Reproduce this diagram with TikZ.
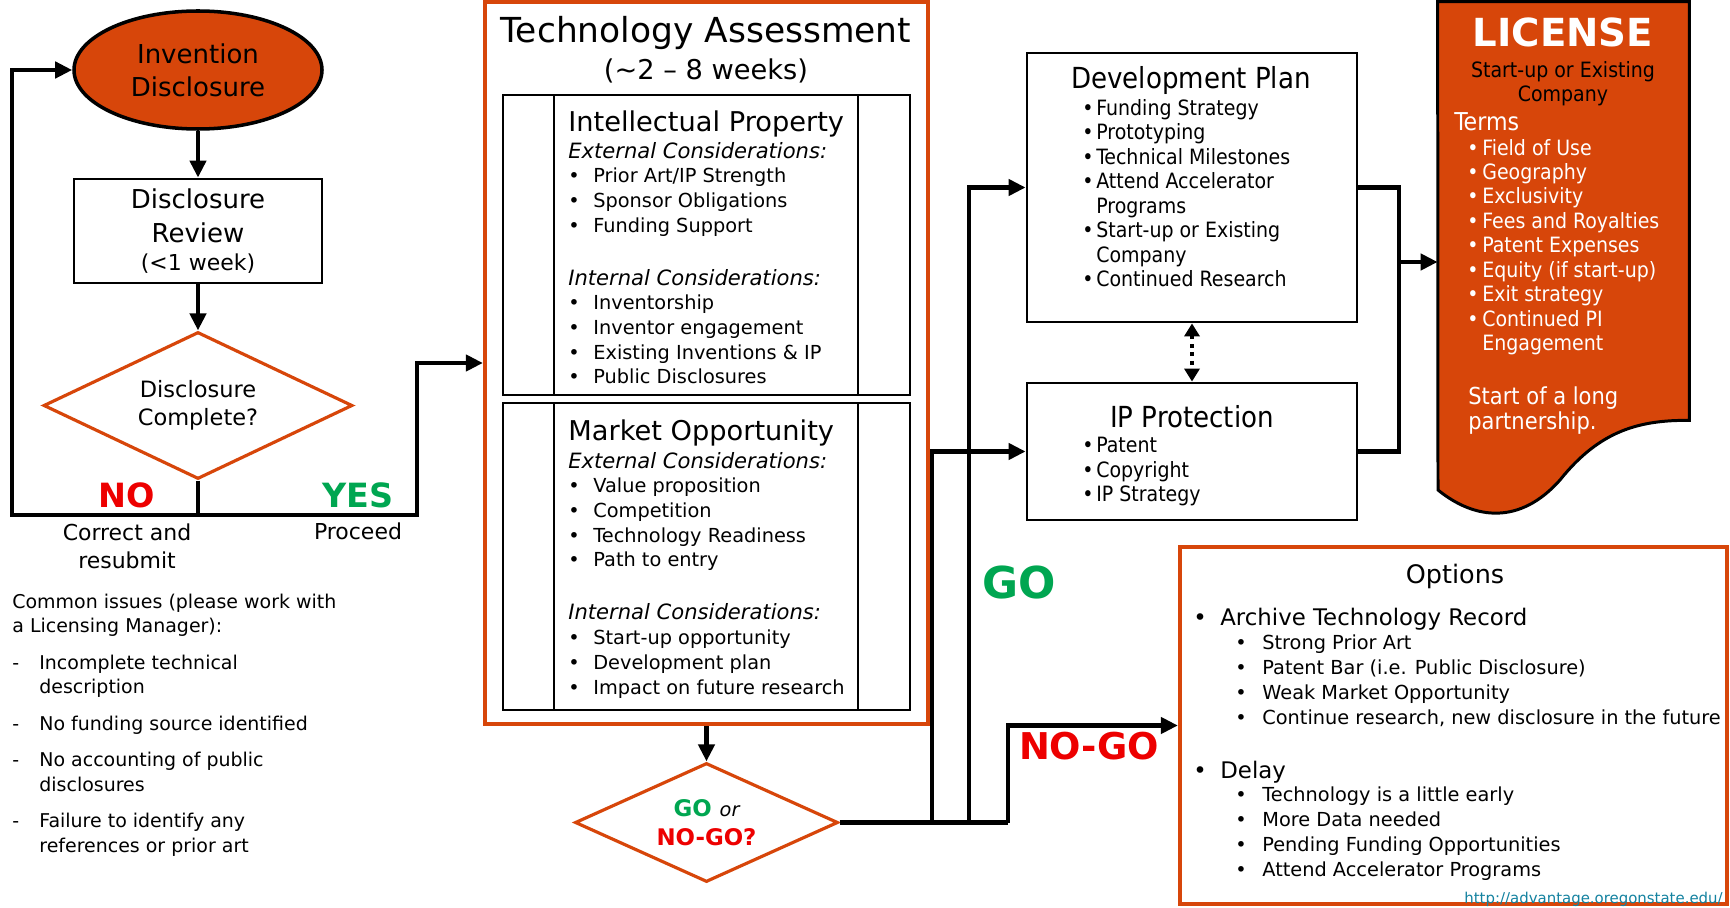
\documentclass[tikz,border=0pt]{standalone}
\usepackage{fontspec}
\setmainfont{DejaVu Sans}
\newfontfamily\condensed{DejaVu Sans Condensed}
\usetikzlibrary{arrows.meta,shapes.geometric}

\definecolor{osuorange}{RGB}{215,70,10}
\definecolor{gogreen}{RGB}{0,166,81}
\definecolor{nogored}{RGB}{237,0,0}
\definecolor{linkteal}{RGB}{20,130,160}

\newcommand{\bul}[1][0.50cm]{\makebox[#1][l]{\textbullet}}

\tikzset{
	conn/.style={line width=2.8pt, -{Triangle[length=0.34cm,width=0.32cm]}},
	wire/.style={line width=2.8pt},
	blackbox/.style={draw, line width=1.6pt, inner sep=0},
	orangebox/.style={draw=osuorange, line width=2.4pt, inner sep=0},
	decide/.style={diamond, draw=osuorange, line width=1.8pt, inner sep=0, align=center},
	textblock/.style={anchor=base west, align=left, inner sep=0},
	itemfont/.style={font=\fontsize{11}{14.05}\selectfont},
	narrowfont/.style={font=\condensed\fontsize{12}{13.9}\selectfont}
}

\begin{document}
\begin{tikzpicture}
	\path [use as bounding box, fill=white] (0,0) rectangle (34.6,-18.16);

	\node (invention) [ellipse, draw, line width=2pt, fill=osuorange, minimum width=4.96cm, minimum height=2.36cm, inner sep=0, align=center, font=\fontsize{14.8}{18.8}\selectfont] at (3.96,-1.40) {Invention\\Disclosure};
	\node (review) [blackbox, minimum width=4.96cm, minimum height=2.08cm, align=center, font=\fontsize{14.8}{19.4}\selectfont] at (3.96,-4.62) {Disclosure\\Review\\[-3.4pt]{\fontsize{12.5}{15}\selectfont (<1 week)}};
	\node (complete) [decide, aspect=2.1, minimum width=6.18cm, minimum height=2.94cm, font=\fontsize{12.8}{16}\selectfont] at (3.96,-8.11) {Disclosure\\Complete?};
	\coordinate (fork) at (3.96,-10.30);
	\coordinate (retry) at (0.24,-10.30);
	\coordinate (proceed) at (8.34,-10.30);
	\node (no) [font=\fontsize{19}{20}\selectfont\bfseries, text=nogored] at (2.54,-9.90) {NO};
	\node (yes) [font=\fontsize{19}{20}\selectfont\bfseries, text=gogreen] at (7.16,-9.90) {YES};
	\node (correct) [align=center, font=\fontsize{12.5}{16}\selectfont] at (2.54,-10.92) {Correct and\\resubmit};
	\node (proceedlabel) [font=\fontsize{12.5}{16}\selectfont] at (7.16,-10.62) {Proceed};
	\node (issues) [textblock, font=\fontsize{10.8}{13.94}\selectfont] at (0.24,-17.04) {Common issues (please work with\\a Licensing Manager):\\[6.8pt]\makebox[0.54cm][l]{-}Incomplete technical\\\hspace*{0.54cm}description\\[6.8pt]\makebox[0.54cm][l]{-}No funding source identified\\[6.8pt]\makebox[0.54cm][l]{-}No accounting of public\\\hspace*{0.54cm}disclosures\\[6.8pt]\makebox[0.54cm][l]{-}Failure to identify any\\\hspace*{0.54cm}references or prior art};

	\node (assess) [orangebox, minimum width=8.86cm, minimum height=14.44cm] at (14.13,-7.26) {};
	\node (assesstitle) [anchor=base, font=\fontsize{19.6}{22}\selectfont] at (14.12,-0.86) {Technology Assessment};
	\node (assessweeks) [anchor=base, font=\fontsize{15.5}{18}\selectfont] at (14.12,-1.60) {(\textasciitilde 2 -- 8 weeks)};
	\node (ipbox) [blackbox, line width=1.4pt, minimum width=8.14cm, minimum height=6.00cm] at (14.13,-4.90) {};
	\draw [line width=1.4pt] (11.08,-1.90) -- (11.08,-7.90);
	\draw [line width=1.4pt] (17.16,-1.90) -- (17.16,-7.90);
	\node (iptitle) [textblock, font=\fontsize{15.5}{18}\selectfont] at (11.36,-2.64) {Intellectual Property};
	\node (iplist) [textblock, itemfont] at (11.36,-7.68) {{\fontsize{12}{14.05}\selectfont\itshape External Considerations:}\\\bul Prior Art/IP Strength\\\bul Sponsor Obligations\\\bul Funding Support\\[16.1pt]{\fontsize{12}{14.05}\selectfont\itshape Internal Considerations:}\\\bul Inventorship\\\bul Inventor engagement\\\bul Existing Inventions \& IP\\\bul Public Disclosures};
	\node (mkbox) [blackbox, line width=1.4pt, minimum width=8.14cm, minimum height=6.14cm] at (14.13,-11.13) {};
	\draw [line width=1.4pt] (11.08,-8.06) -- (11.08,-14.20);
	\draw [line width=1.4pt] (17.16,-8.06) -- (17.16,-14.20);
	\node (mktitle) [textblock, font=\fontsize{15.5}{18}\selectfont] at (11.36,-8.80) {Market Opportunity};
	\node (mklist) [textblock, itemfont] at (11.36,-13.88) {{\fontsize{12}{14.05}\selectfont\itshape External Considerations:}\\\bul Value proposition\\\bul Competition\\\bul Technology Readiness\\\bul Path to entry\\[16.1pt]{\fontsize{12}{14.05}\selectfont\itshape Internal Considerations:}\\\bul Start-up opportunity\\\bul Development plan\\\bul Impact on future research};
	\node (godecide) [decide, aspect=2.2, minimum width=5.26cm, minimum height=2.38cm, font=\fontsize{13}{16.5}\selectfont\bfseries] at (14.13,-16.45) {\textcolor{gogreen}{GO} {\fontsize{11}{11}\selectfont\mdseries\itshape or}\\\textcolor{nogored}{NO-GO?}};
	\node (golabel) [font=\fontsize{25}{25}\selectfont\bfseries, text=gogreen] at (20.38,-11.66) {GO};
	\node (nogolabel) [font=\fontsize{21}{21}\selectfont\bfseries, text=nogored] at (21.78,-14.92) {NO-GO};

	\node (devplan) [blackbox, minimum width=6.60cm, minimum height=5.38cm] at (23.84,-3.75) {};
	\node (devtitle) [anchor=base, font=\condensed\fontsize{16.5}{19}\selectfont] at (23.82,-1.78) {Development Plan};
	\node (devlist) [textblock, narrowfont] at (21.64,-5.73) {\bul[0.28cm]Funding Strategy\\\bul[0.28cm]Prototyping\\\bul[0.28cm]Technical Milestones\\\bul[0.28cm]Attend Accelerator\\\hspace*{0.28cm}Programs\\\bul[0.28cm]Start-up or Existing\\\hspace*{0.28cm}Company\\\bul[0.28cm]Continued Research};
	\node (ipprot) [blackbox, minimum width=6.60cm, minimum height=2.74cm] at (23.84,-9.03) {};
	\node (ipprottitle) [anchor=base, font=\condensed\fontsize{16.5}{19}\selectfont] at (23.84,-8.54) {IP Protection};
	\node (ipprotlist) [textblock, narrowfont] at (21.64,-10.03) {\bul[0.28cm]Patent\\\bul[0.28cm]Copyright\\\bul[0.28cm]IP Strategy};
	\coordinate (merge) at (27.98,-5.24);

	\node (license) [minimum width=5.02cm, minimum height=8.36cm, inner sep=0] at (31.27,-4.22) {};
	\filldraw [fill=osuorange, draw=black, line width=1.7pt] (license.north west) -- (license.north east) -- (license.south east) .. controls (32.8,-8.40) and (32.0,-8.60) .. (31.2,-9.60) .. controls (30.4,-10.50) and (29.5,-10.40) .. (28.76,-9.80) -- cycle;
	\node (lictitle) [anchor=base, font=\fontsize{22}{22}\selectfont\bfseries, text=white] at (31.26,-0.94) {LICENSE};
	\node (licwho) [anchor=base, align=center, inner sep=0, font=\condensed\fontsize{12}{13.7}\selectfont] at (31.26,-2.03) {Start-up or Existing\\Company};
	\node (licterms) [textblock, font=\condensed\fontsize{14}{16}\selectfont, text=white] at (29.08,-2.62) {Terms};
	\node (liclist) [textblock, narrowfont, text=white] at (29.34,-7.01) {\bul[0.30cm]Field of Use\\\bul[0.30cm]Geography\\\bul[0.30cm]Exclusivity\\\bul[0.30cm]Fees and Royalties\\\bul[0.30cm]Patent Expenses\\\bul[0.30cm]Equity (if start-up)\\\bul[0.30cm]Exit strategy\\\bul[0.30cm]Continued PI\\\hspace*{0.30cm}Engagement};
	\node (licnote) [textblock, font=\condensed\fontsize{13.3}{14.2}\selectfont, text=white] at (29.36,-8.59) {Start of a long\\partnership.};

	\node (options) [orangebox, minimum width=10.94cm, minimum height=7.14cm] at (29.07,-14.51) {};
	\node (opttitle) [anchor=base, font=\fontsize{14.5}{16}\selectfont] at (29.10,-11.66) {Options};
	\node (optarchive) [textblock, font=\fontsize{13}{15}\selectfont] at (23.86,-12.50) {\bul[0.54cm]Archive Technology Record};
	\node (optarchlist) [textblock, itemfont] at (24.70,-14.48) {\bul[0.54cm]Strong Prior Art\\\bul[0.54cm]Patent Bar (i.e. Public Disclosure)\\\bul[0.54cm]Weak Market Opportunity\\\bul[0.54cm]Continue research, new disclosure in the future};
	\node (optdelay) [textblock, font=\fontsize{13}{15}\selectfont] at (23.86,-15.56) {\bul[0.54cm]Delay};
	\node (optdelaylist) [textblock, itemfont] at (24.70,-17.52) {\bul[0.54cm]Technology is a little early\\\bul[0.54cm]More Data needed\\\bul[0.54cm]Pending Funding Opportunities\\\bul[0.54cm]Attend Accelerator Programs};
	\node (url) [anchor=base east, inner sep=0, font=\fontsize{8.5}{9}\selectfont, text=linkteal] at (34.46,-18.06) {\underline{http://advantage.oregonstate.edu/}};

	\draw [conn] (invention.south) -- (review.north);
	\draw [conn] (review.south) -- (complete.north);
	\draw [wire] (complete.south) -- (fork);
	\draw [conn] (fork) -- (retry) |- (invention.west);
	\draw [conn] (fork) -- (proceed) |- (assess.west);
	\draw [conn] (assess.south) -- (godecide.north);
	\coordinate (gobendip) at (18.64,-16.45);
	\coordinate (gobenddev) at (19.38,-16.45);
	\coordinate (nogobend) at (20.16,-16.45);
	\draw [wire] (godecide.east) -- (nogobend);
	\draw [conn] (nogobend) |- (options.west);
	\draw [conn] (gobendip) |- (ipprot.west);
	\draw [conn] (gobenddev) |- (devplan.west);
	\draw [line width=2.2pt, dash pattern=on 2.2pt off 2.6pt, {Triangle[length=0.26cm,width=0.30cm]}-{Triangle[length=0.26cm,width=0.30cm]}] (devplan.south) -- (ipprot.north);
	\draw [wire] (devplan.east) -| (merge) |- (ipprot.east);
	\draw [conn] (merge) -- (merge -| license.west);
\end{tikzpicture}
\end{document}
